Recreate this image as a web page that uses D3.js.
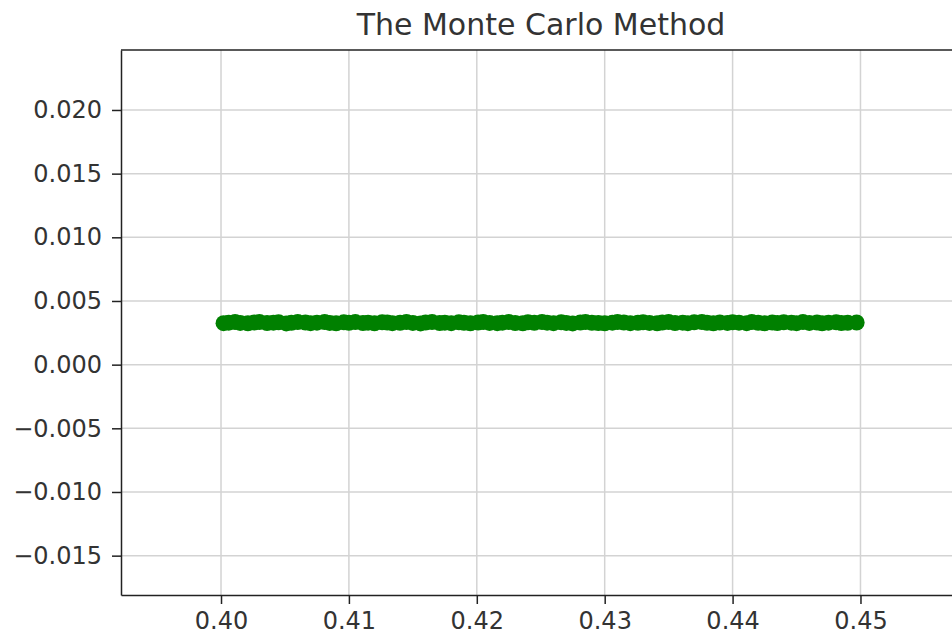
<!DOCTYPE html>
<html>
<head>
<meta charset="utf-8">
<script src="https://cdn.jsdelivr.net/npm/d3@7"></script>
<style>
  body { margin: 0; background: #fff; overflow: hidden; }
  svg { display: block; font-family: "DejaVu Sans", sans-serif; }
  .grid line { stroke: #d3d3d3; stroke-width: 1.5; }
  .axis path, .axis line { stroke: #222; stroke-width: 1.5; }
  .axis text { fill: #333; font-size: 24px; font-family: "DejaVu Sans", sans-serif; }
</style>
</head>
<body>
<div id="chart"></div>
<script>
// Sample points
const xValues = [
  0.4002, 0.4006, 0.4011, 0.4015, 0.4021, 0.4026, 0.4030, 0.4036, 0.4041, 0.4045,
  0.4051, 0.4055, 0.4060, 0.4066, 0.4070, 0.4075, 0.4081, 0.4085, 0.4090, 0.4096,
  0.4100, 0.4105, 0.4111, 0.4115, 0.4120, 0.4126, 0.4130, 0.4134, 0.4140, 0.4145,
  0.4150, 0.4156, 0.4160, 0.4165, 0.4171, 0.4175, 0.4180, 0.4186, 0.4190, 0.4195,
  0.4201, 0.4205, 0.4210, 0.4216, 0.4220, 0.4225, 0.4230, 0.4236, 0.4240, 0.4245,
  0.4251, 0.4255, 0.4260, 0.4266, 0.4270, 0.4275, 0.4281, 0.4285, 0.4290, 0.4295,
  0.4300, 0.4306, 0.4310, 0.4315, 0.4320, 0.4326, 0.4330, 0.4335, 0.4341, 0.4345,
  0.4350, 0.4355, 0.4361, 0.4365, 0.4370, 0.4376, 0.4380, 0.4385, 0.4390, 0.4396,
  0.4400, 0.4405, 0.4411, 0.4415, 0.4420, 0.4425, 0.4431, 0.4435, 0.4440, 0.4446,
  0.4450, 0.4455, 0.4460, 0.4466, 0.4470, 0.4475, 0.4481, 0.4485, 0.4490, 0.4497
];
const yValues = [
  0.00326, 0.00330, 0.00334, 0.00328, 0.00325, 0.00331, 0.00335, 0.00327, 0.00330, 0.00333,
  0.00324, 0.00329, 0.00334, 0.00331, 0.00326, 0.00330, 0.00335, 0.00328, 0.00325, 0.00332,
  0.00329, 0.00334, 0.00327, 0.00330, 0.00325, 0.00333, 0.00331, 0.00326, 0.00329, 0.00335,
  0.00328, 0.00324, 0.00331, 0.00334, 0.00327, 0.00330, 0.00326, 0.00333, 0.00329, 0.00325,
  0.00331, 0.00335, 0.00328, 0.00326, 0.00330, 0.00334, 0.00327, 0.00325, 0.00332, 0.00329,
  0.00335, 0.00330, 0.00326, 0.00333, 0.00328, 0.00324, 0.00331, 0.00334, 0.00329, 0.00327,
  0.00325, 0.00330, 0.00335, 0.00331, 0.00326, 0.00329, 0.00333, 0.00328, 0.00325, 0.00331,
  0.00334, 0.00327, 0.00330, 0.00326, 0.00332, 0.00335, 0.00329, 0.00325, 0.00331, 0.00328,
  0.00333, 0.00330, 0.00326, 0.00334, 0.00329, 0.00325, 0.00331, 0.00327, 0.00333, 0.00330,
  0.00326, 0.00334, 0.00328, 0.00331, 0.00325, 0.00330, 0.00333, 0.00327, 0.00329, 0.00331
];
const xTicks = [0.40, 0.41, 0.42, 0.43, 0.44, 0.45];
const yTicks = [-0.015, -0.010, -0.005, 0.000, 0.005, 0.010, 0.015, 0.020];
const title = "The Monte Carlo Method";

const points = xValues.map((x, i) => ({ x: x, y: yValues[i] }));

// Dimensions (plot runs past the right edge of the window, as in the picture)
const W = 952, H = 639;
const margin = { top: 50, left: 121 };
const width = 840, height = 545;

const x = d3.scaleLinear().domain([0.39218, 0.45786]).range([0, width]);
const y = d3.scaleLinear().domain([-0.01809, 0.02471]).range([height, 0]);

const svg = d3.select("#chart").append("svg")
  .attr("width", W)
  .attr("height", H)
  .append("g")
  .attr("transform", "translate(" + margin.left + "," + margin.top + ")");

// Grid lines
svg.append("g")
  .attr("class", "grid")
  .selectAll("line.v")
  .data(xTicks)
  .enter().append("line")
  .attr("x1", d => x(d)).attr("x2", d => x(d))
  .attr("y1", 0).attr("y2", height);

svg.append("g")
  .attr("class", "grid")
  .selectAll("line.h")
  .data(yTicks)
  .enter().append("line")
  .attr("x1", 0).attr("x2", width)
  .attr("y1", d => y(d)).attr("y2", d => y(d));

// Points
svg.append("g")
  .selectAll("circle")
  .data(points)
  .enter().append("circle")
  .attr("cx", d => x(d.x))
  .attr("cy", d => y(d.y))
  .attr("r", 8)
  .attr("fill", "#008000");

// Axes
svg.append("g")
  .attr("class", "axis")
  .attr("transform", "translate(0," + height + ")")
  .call(d3.axisBottom(x).tickValues(xTicks).tickFormat(d3.format(".2f"))
    .tickSizeInner(9).tickSizeOuter(0).tickPadding(8));

svg.append("g")
  .attr("class", "axis")
  .call(d3.axisLeft(y).tickValues(yTicks).tickFormat(d3.format(".3f"))
    .tickSizeInner(9).tickSizeOuter(0).tickPadding(10));

// Top and right spines
svg.append("line")
  .attr("x1", 0).attr("x2", width).attr("y1", 0).attr("y2", 0)
  .attr("stroke", "#222").attr("stroke-width", 1.5);
svg.append("line")
  .attr("x1", width).attr("x2", width).attr("y1", 0).attr("y2", height)
  .attr("stroke", "#222").attr("stroke-width", 1.5);

// Title
svg.append("text")
  .attr("x", width / 2)
  .attr("y", -15)
  .attr("text-anchor", "middle")
  .style("font-size", "30px")
  .style("fill", "#333")
  .text(title);
</script>
</body>
</html>
